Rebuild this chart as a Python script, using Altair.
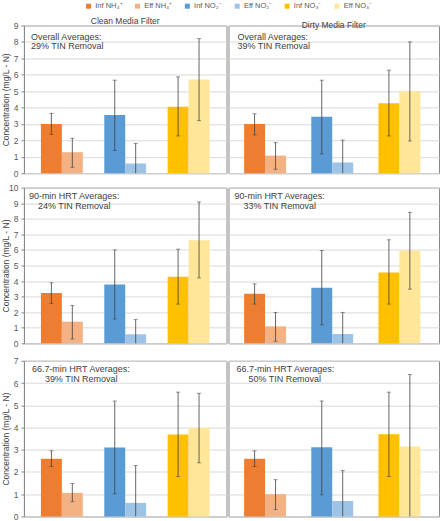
import altair as alt
import pandas as pd

# Series shown in every panel (influent / effluent for each nitrogen species)
series = ["Inf NH₄⁺", "Eff NH₄⁺", "Inf NO₂⁻", "Eff NO₂⁻", "Inf NO₃⁻", "Eff NO₃⁻"]
species = ["NH4", "NH4", "NO2", "NO2", "NO3", "NO3"]
stage = ["Inf", "Eff", "Inf", "Eff", "Inf", "Eff"]
colors = ["#ED7D31", "#F4B183", "#5B9BD5", "#9DC3E6", "#FFC000", "#FFE699"]

# Overall averages
clean_all_mean = [3.00, 1.28, 3.54, 0.59, 4.05, 5.71]
clean_all_low = [2.37, 0.36, 1.38, 0.00, 2.27, 3.20]
clean_all_high = [3.65, 2.13, 5.67, 1.82, 5.87, 8.20]
dirty_all_mean = [3.00, 1.07, 3.44, 0.65, 4.27, 5.00]
dirty_all_low = [2.33, 0.24, 1.17, 0.00, 2.27, 1.96]
dirty_all_high = [3.62, 1.86, 5.67, 2.02, 6.28, 8.00]

# 90-min HRT averages
clean_90_mean = [3.23, 1.39, 3.78, 0.58, 4.27, 6.62]
clean_90_low = [2.56, 0.28, 1.56, 0.00, 2.52, 4.20]
clean_90_high = [3.89, 2.44, 6.00, 1.52, 6.05, 9.08]
dirty_90_mean = [3.18, 1.09, 3.57, 0.60, 4.55, 5.96]
dirty_90_low = [2.52, 0.13, 1.18, 0.00, 2.52, 3.48]
dirty_90_high = [3.82, 1.99, 5.96, 1.99, 6.65, 8.42]

# 66.7-min HRT averages
clean_67_mean = [2.59, 1.06, 3.10, 0.61, 3.68, 3.99]
clean_67_low = [2.25, 0.66, 1.01, 0.00, 1.79, 2.41]
clean_67_high = [2.95, 1.48, 5.19, 2.29, 5.59, 5.54]
dirty_67_mean = [2.59, 1.00, 3.11, 0.69, 3.70, 3.14]
dirty_67_low = [2.24, 0.31, 0.97, 0.00, 1.79, 0.00]
dirty_67_high = [2.95, 1.65, 5.19, 2.06, 5.59, 6.38]

FONT = "Liberation Sans"
TEXT = "#404040"
LABEL = "#595959"
LINE = "#898989"
GRID = "#D9D9D9"
YTITLE = "Concentration (mg/L - N)"

legend = alt.Legend(
    title=None, orient="none", legendX=61, legendY=-23.5, direction="horizontal",
    columns=6, symbolType="square", symbolSize=25, symbolStrokeWidth=0,
    labelFontSize=7.5, labelColor=LABEL, labelFont=FONT, columnPadding=11,
    labelOffset=3,
)


def panel(mean, low, high, ymax, w, h, left, pin, pout, title, note_a, note_b, pa, pb):
    df = pd.DataFrame({
        "series": series, "species": species, "stage": stage,
        "mean": mean, "low": low, "high": high,
    })
    x = alt.X("species:N", axis=None,
              scale=alt.Scale(domain=["NH4", "NO2", "NO3"], paddingInner=pin, paddingOuter=pout))
    xo = alt.XOffset("stage:N", scale=alt.Scale(domain=["Inf", "Eff"], paddingInner=0, paddingOuter=0))
    yscale = alt.Scale(domain=[0, ymax], nice=False)
    ticks = list(range(ymax + 1))
    if left:
        yaxis = alt.Axis(
            values=ticks, grid=True, gridColor=GRID, domainColor=LINE, tickColor=LINE,
            tickSize=3, labelPadding=3, labelFontSize=8.5, labelColor=LABEL, labelFont=FONT,
            labelOverlap=False,
            titleX=-18, titleY=h / 2, titleAngle=-90, titleAlign="center",
            titleBaseline="middle", titleFontSize=8.5, titleFontWeight="normal",
            titleColor=TEXT, titleFont=FONT,
        )
        ytitle = YTITLE
    else:
        yaxis = alt.Axis(values=ticks, grid=True, gridColor=GRID, labels=False,
                         ticks=False, domain=False)
        ytitle = None

    def yenc(field):
        return alt.Y(field, scale=yscale, axis=yaxis, title=ytitle)

    base = alt.Chart(df).encode(x=x, xOffset=xo)
    bars = base.mark_bar().encode(
        y=yenc("mean:Q"),
        color=alt.Color("series:N", scale=alt.Scale(domain=series, range=colors), legend=legend),
    )
    whisker = base.mark_rule(color=TEXT, strokeWidth=0.8).encode(
        y=yenc("low:Q"), y2="high:Q")
    cap_hi = base.mark_tick(orient="horizontal", size=4, thickness=0.8, color=TEXT).encode(
        y=yenc("high:Q"))
    cap_lo = base.transform_filter("datum.low > 0").mark_tick(
        orient="horizontal", size=4, thickness=0.8, color=TEXT).encode(
        y=yenc("low:Q"))

    one = pd.DataFrame({"k": [0]})
    txt = dict(align="left", baseline="middle", fontSize=9, color=TEXT, font=FONT)
    line_a = alt.Chart(one).mark_text(**txt).encode(
        x=alt.value(pa[0]), y=alt.value(pa[1]), text=alt.value(note_a))
    line_b = alt.Chart(one).mark_text(**txt).encode(
        x=alt.value(pb[0]), y=alt.value(pb[1]), text=alt.value(note_b))

    props = dict(width=w, height=h)
    if title:
        props["title"] = alt.TitleParams(title, fontSize=8.5, fontWeight="normal",
                                         color=TEXT, font=FONT, anchor="middle", offset=-4)
    return alt.layer(bars, whisker, cap_hi, cap_lo, line_a, line_b).properties(**props)


LW, RW = 203, 211
LPI, LPO = 0.339, 0.268
RPI, RPO = 0.331, 0.233

row1 = alt.hconcat(
    panel(clean_all_mean, clean_all_low, clean_all_high, 9, LW, 148, True, LPI, LPO,
          "Clean Media Filter", "Overall Averages:", "29% TIN Removal", (7, 11), (7, 21)),
    panel(dirty_all_mean, dirty_all_low, dirty_all_high, 9, RW, 148, False, RPI, RPO,
          "Dirty Media Filter", "Overall Averages:", "39% TIN Removal", (9, 11), (9, 21)),
    spacing=0,
)
row2 = alt.hconcat(
    panel(clean_90_mean, clean_90_low, clean_90_high, 10, LW, 156, True, LPI, LPO,
          None, "90-min HRT Averages:", "24% TIN Removal", (5, 8), (14, 18)),
    panel(dirty_90_mean, dirty_90_low, dirty_90_high, 10, RW, 156, False, RPI, RPO,
          None, "90-min HRT Averages:", "33% TIN Removal", (6, 8), (15, 18)),
    spacing=0,
)
row3 = alt.hconcat(
    panel(clean_67_mean, clean_67_low, clean_67_high, 7, LW, 156, True, LPI, LPO,
          None, "66.7-min HRT Averages:", "39% TIN Removal", (8, 8), (21, 18)),
    panel(dirty_67_mean, dirty_67_low, dirty_67_high, 7, RW, 156, False, RPI, RPO,
          None, "66.7-min HRT Averages:", "50% TIN Removal", (8, 8), (20, 18)),
    spacing=0,
)

chart = alt.vconcat(
    alt.vconcat(row1, row2, spacing=4.5),
    row3, spacing=7,
).properties(
    padding={"left": 1, "top": 1, "right": 4, "bottom": 1},
    background="white",
).configure_view(
    stroke=LINE, strokeWidth=1,
)

chart.save("out.html", embed_options={"renderer": "svg", "actions": False})
